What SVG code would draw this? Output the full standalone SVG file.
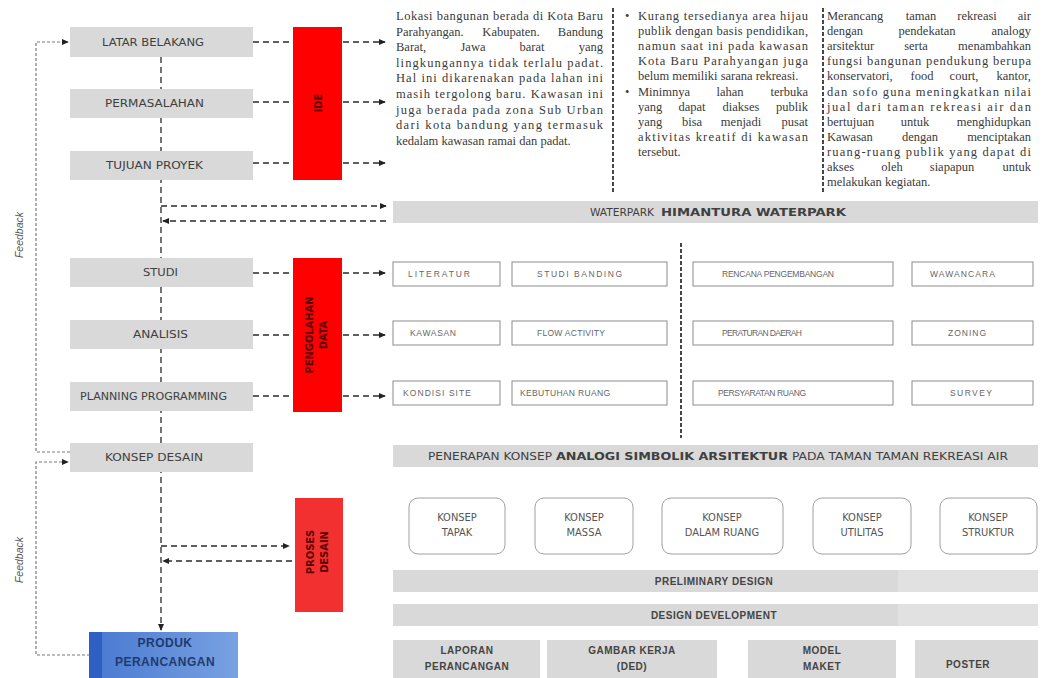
<svg xmlns="http://www.w3.org/2000/svg" width="1043" height="678" viewBox="0 0 1043 678">
<style>
.gbox{fill:#d9d9d9}
.red{fill:#ff0000}
.lbl{font-family:"Liberation Sans Narrow","DejaVu Sans Condensed","Liberation Sans",sans-serif;font-size:11px;fill:#404040}
.rtx{font-family:"Liberation Sans Narrow","DejaVu Sans Condensed","Liberation Sans",sans-serif;font-size:11px;font-weight:bold;fill:#5a0000}
.p{font-family:"Liberation Serif","Times New Roman",serif;font-size:12.5px;fill:#3a3a3a}
.wb{fill:#fff;stroke:#8c8c8c;stroke-width:1}
.sm{font-family:"Liberation Sans",Arial,sans-serif;font-size:8.5px;fill:#666}
.kb{fill:#fff;stroke:#a0a0a0;stroke-width:1}
.kt{font-family:"Liberation Sans Narrow","DejaVu Sans Condensed","Liberation Sans",sans-serif;font-size:11px;fill:#555;text-anchor:middle}
.bt{font-family:"Liberation Sans",Arial,sans-serif;font-size:10px;font-weight:bold;fill:#444;text-anchor:middle;letter-spacing:0.5px}
.dash{fill:none;stroke:#2a2a2a;stroke-width:1.3;stroke-dasharray:6 4}
.sep{fill:none;stroke:#1a1a1a;stroke-width:1.6;stroke-dasharray:4 2}
.fb{fill:none;stroke:#7a7a7a;stroke-width:1.2;stroke-dasharray:3 2}
.fbt{font-family:"Liberation Sans",Arial,sans-serif;font-size:10.5px;font-style:italic;fill:#555;text-anchor:middle}
</style>
<defs>
<marker id="ah" viewBox="0 0 8 8" refX="7" refY="4" markerWidth="7" markerHeight="7" orient="auto" markerUnits="userSpaceOnUse"><path d="M0,0.5 L8,4 L0,7.5 z" fill="#222"/></marker>
<linearGradient id="blue" x1="0" y1="0" x2="1" y2="0"><stop offset="0" stop-color="#4878d0"/><stop offset="1" stop-color="#79a2e2"/></linearGradient>
</defs>
<rect width="1043" height="678" fill="#ffffff"/>

<g id="connectors">
<line class="dash" x1="161" y1="57" x2="161" y2="630" marker-end="url(#ah)"/>
<line class="dash" x1="253" y1="42" x2="385" y2="42" marker-end="url(#ah)"/>
<line class="dash" x1="253" y1="102" x2="385" y2="102" marker-end="url(#ah)"/>
<line class="dash" x1="253" y1="163" x2="385" y2="163" marker-end="url(#ah)"/>
<line class="dash" x1="253" y1="273" x2="385" y2="273" marker-end="url(#ah)"/>
<line class="dash" x1="253" y1="335" x2="385" y2="335" marker-end="url(#ah)"/>
<line class="dash" x1="253" y1="396" x2="385" y2="396" marker-end="url(#ah)"/>
<line class="dash" x1="161" y1="206" x2="386" y2="206" marker-end="url(#ah)"/>
<line class="dash" x1="386" y1="221" x2="163" y2="221" marker-end="url(#ah)"/>
<line class="dash" x1="161" y1="546" x2="289" y2="546" marker-end="url(#ah)"/>
<line class="dash" x1="292" y1="561" x2="163" y2="561" marker-end="url(#ah)"/>
<path class="fb" d="M70,452 H36 V42 H68" marker-end="url(#ah)"/>
<path class="fb" d="M90,655 H36 V462 H68" marker-end="url(#ah)"/>
<line class="sep" x1="613" y1="8" x2="613" y2="193"/>
<line class="sep" x1="823" y1="8" x2="823" y2="193"/>
<line class="sep" x1="681" y1="243" x2="681" y2="438"/>
</g>

<text class="fbt" transform="translate(23,235) rotate(-90)">Feedback</text>
<text class="fbt" transform="translate(23,560) rotate(-90)">Feedback</text>

<g id="latar-belakang"><rect class="gbox" x="70" y="27" width="183" height="30"/><text class="lbl" x="102" y="46" textLength="102" lengthAdjust="spacingAndGlyphs">LATAR BELAKANG</text></g>
<g id="permasalahan"><rect class="gbox" x="70" y="89" width="183" height="29"/><text class="lbl" x="105" y="107" textLength="99" lengthAdjust="spacingAndGlyphs">PERMASALAHAN</text></g>
<g id="tujuan-proyek"><rect class="gbox" x="70" y="151" width="183" height="29"/><text class="lbl" x="106" y="169" textLength="97" lengthAdjust="spacingAndGlyphs">TUJUAN PROYEK</text></g>
<g id="studi"><rect class="gbox" x="70" y="258" width="183" height="29"/><text class="lbl" x="143" y="276" textLength="35" lengthAdjust="spacingAndGlyphs">STUDI</text></g>
<g id="analisis"><rect class="gbox" x="70" y="320" width="183" height="29"/><text class="lbl" x="133" y="338" textLength="55" lengthAdjust="spacingAndGlyphs">ANALISIS</text></g>
<g id="planning"><rect class="gbox" x="70" y="382" width="183" height="29"/><text class="lbl" x="80" y="400" textLength="147" lengthAdjust="spacingAndGlyphs">PLANNING PROGRAMMING</text></g>
<g id="konsep-desain"><rect class="gbox" x="70" y="443" width="183" height="29"/><text class="lbl" x="105" y="461" textLength="98" lengthAdjust="spacingAndGlyphs">KONSEP DESAIN</text></g>

<g id="produk"><rect x="89" y="632" width="149" height="46" fill="url(#blue)"/><rect x="89" y="632" width="13" height="46" fill="#2f5fc2"/>
<text x="165" y="647" font-family="Liberation Sans,Arial,sans-serif" font-size="12" font-weight="bold" fill="#1f3a6e" text-anchor="middle" letter-spacing="0.5">PRODUK</text>
<text x="165" y="666" font-family="Liberation Sans,Arial,sans-serif" font-size="12" font-weight="bold" fill="#1f3a6e" text-anchor="middle" letter-spacing="0.5">PERANCANGAN</text></g>

<g id="ide"><rect class="red" x="293" y="27" width="49" height="153"/><text class="rtx" text-anchor="middle" transform="translate(322,103) rotate(-90)">IDE</text></g>
<g id="pengolahan-data"><rect class="red" x="293" y="258" width="49" height="154"/><text class="rtx" text-anchor="middle" transform="translate(318,335) rotate(-90)"><tspan x="0" y="-5">PENGOLAHAN</tspan><tspan x="0" y="9">DATA</tspan></text></g>
<g id="proses-desain"><rect x="295" y="498" width="48" height="114" fill="#f23030"/><text class="rtx" text-anchor="middle" transform="translate(319,552) rotate(-90)"><tspan x="0" y="-5">PROSES</tspan><tspan x="0" y="9">DESAIN</tspan></text></g>

<g id="text-latar">
<text class="p" x="396" y="20" textLength="207" lengthAdjust="spacing">Lokasi bangunan berada di Kota Baru</text>
<text class="p" x="396" y="35.6">Parahyangan.</text><text class="p" x="511" y="35.6" text-anchor="middle">Kabupaten.</text><text class="p" x="603" y="35.6" text-anchor="end">Bandung</text>
<text class="p" x="396" y="51.2">Barat,</text><text class="p" x="473" y="51.2" text-anchor="middle">Jawa</text><text class="p" x="532" y="51.2" text-anchor="middle">barat</text><text class="p" x="603" y="51.2" text-anchor="end">yang</text>
<text class="p" x="396" y="66.8" textLength="207" lengthAdjust="spacing">lingkungannya tidak terlalu padat.</text>
<text class="p" x="396" y="82.4" textLength="207" lengthAdjust="spacing">Hal ini dikarenakan pada lahan ini</text>
<text class="p" x="396" y="98" textLength="207" lengthAdjust="spacing">masih tergolong baru. Kawasan ini</text>
<text class="p" x="396" y="113.6" textLength="207" lengthAdjust="spacing">juga berada pada zona Sub Urban</text>
<text class="p" x="396" y="129.2" textLength="207" lengthAdjust="spacing">dari kota bandung yang termasuk</text>
<text class="p" x="396" y="144.8">kedalam kawasan ramai dan padat.</text>
</g>

<g id="text-permasalahan">
<text class="p" x="625" y="20">•</text>
<text class="p" x="638" y="20" textLength="170" lengthAdjust="spacing">Kurang tersedianya area hijau</text>
<text class="p" x="638" y="35.1" textLength="170" lengthAdjust="spacing">publik dengan basis pendidikan,</text>
<text class="p" x="638" y="50.2" textLength="170" lengthAdjust="spacing">namun saat ini pada kawasan</text>
<text class="p" x="638" y="65.3" textLength="170" lengthAdjust="spacing">Kota Baru Parahyangan juga</text>
<text class="p" x="638" y="80.4">belum memiliki sarana rekreasi.</text>
<text class="p" x="625" y="95.5">•</text>
<text class="p" x="638" y="95.5">Minimnya</text><text class="p" x="730" y="95.5" text-anchor="middle">lahan</text><text class="p" x="808" y="95.5" text-anchor="end">terbuka</text>
<text class="p" x="638" y="110.6">yang</text><text class="p" x="692" y="110.6" text-anchor="middle">dapat</text><text class="p" x="741" y="110.6" text-anchor="middle">diakses</text><text class="p" x="808" y="110.6" text-anchor="end">publik</text>
<text class="p" x="638" y="125.7">yang</text><text class="p" x="692" y="125.7" text-anchor="middle">bisa</text><text class="p" x="741" y="125.7" text-anchor="middle">menjadi</text><text class="p" x="808" y="125.7" text-anchor="end">pusat</text>
<text class="p" x="638" y="140.8" textLength="170" lengthAdjust="spacing">aktivitas kreatif di kawasan</text>
<text class="p" x="638" y="155.9">tersebut.</text>
</g>

<g id="text-tujuan">
<text class="p" x="827" y="20">Merancang</text><text class="p" x="921" y="20" text-anchor="middle">taman</text><text class="p" x="977" y="20" text-anchor="middle">rekreasi</text><text class="p" x="1031" y="20" text-anchor="end">air</text>
<text class="p" x="827" y="35.1">dengan</text><text class="p" x="927" y="35.1" text-anchor="middle">pendekatan</text><text class="p" x="1031" y="35.1" text-anchor="end">analogy</text>
<text class="p" x="827" y="50.2">arsitektur</text><text class="p" x="916" y="50.2" text-anchor="middle">serta</text><text class="p" x="1031" y="50.2" text-anchor="end">menambahkan</text>
<text class="p" x="827" y="65.3" textLength="204" lengthAdjust="spacing">fungsi bangunan pendukung berupa</text>
<text class="p" x="827" y="80.4">konservatori,</text><text class="p" x="922" y="80.4" text-anchor="middle">food</text><text class="p" x="964" y="80.4" text-anchor="middle">court,</text><text class="p" x="1031" y="80.4" text-anchor="end">kantor,</text>
<text class="p" x="827" y="95.5" textLength="204" lengthAdjust="spacing">dan sofo guna meningkatkan nilai</text>
<text class="p" x="827" y="110.6" textLength="204" lengthAdjust="spacing">jual dari taman rekreasi air dan</text>
<text class="p" x="827" y="125.7">bertujuan</text><text class="p" x="915" y="125.7" text-anchor="middle">untuk</text><text class="p" x="1031" y="125.7" text-anchor="end">menghidupkan</text>
<text class="p" x="827" y="140.8">Kawasan</text><text class="p" x="920" y="140.8" text-anchor="middle">dengan</text><text class="p" x="1031" y="140.8" text-anchor="end">menciptakan</text>
<text class="p" x="827" y="155.9" textLength="204" lengthAdjust="spacing">ruang-ruang publik yang dapat di</text>
<text class="p" x="827" y="171">akses</text><text class="p" x="892" y="171" text-anchor="middle">oleh</text><text class="p" x="952" y="171" text-anchor="middle">siapapun</text><text class="p" x="1031" y="171" text-anchor="end">untuk</text>
<text class="p" x="827" y="186.1">melakukan kegiatan.</text>
</g>

<g id="waterpark"><rect class="gbox" x="393" y="201" width="645" height="22"/>
<text class="lbl" x="590" y="216" textLength="64" lengthAdjust="spacingAndGlyphs">WATERPARK</text>
<text class="lbl" x="661" y="216" textLength="185" lengthAdjust="spacingAndGlyphs" font-weight="bold" fill="#1a1a1a">HIMANTURA WATERPARK</text></g>

<g id="literatur"><rect class="wb" x="393" y="262" width="107" height="24"/><text class="sm" x="408" y="277" textLength="62">LITERATUR</text></g>
<g id="studi-banding"><rect class="wb" x="512" y="262" width="155" height="24"/><text class="sm" x="537" y="277" textLength="85">STUDI BANDING</text></g>
<g id="rencana"><rect class="wb" x="693" y="262" width="200" height="24"/><text class="sm" x="722" y="277" textLength="112">RENCANA PENGEMBANGAN</text></g>
<g id="wawancara"><rect class="wb" x="912" y="262" width="121" height="24"/><text class="sm" x="930" y="277" textLength="65">WAWANCARA</text></g>
<g id="kawasan"><rect class="wb" x="393" y="321" width="107" height="24"/><text class="sm" x="410" y="336" textLength="46">KAWASAN</text></g>
<g id="flow-activity"><rect class="wb" x="512" y="321" width="155" height="24"/><text class="sm" x="537" y="336" textLength="68">FLOW ACTIVITY</text></g>
<g id="peraturan"><rect class="wb" x="693" y="321" width="200" height="24"/><text class="sm" x="722" y="336" textLength="80">PERATURAN DAERAH</text></g>
<g id="zoning"><rect class="wb" x="912" y="321" width="121" height="24"/><text class="sm" x="948" y="336" textLength="38">ZONING</text></g>
<g id="kondisi-site"><rect class="wb" x="393" y="381" width="107" height="24"/><text class="sm" x="403" y="396" textLength="68">KONDISI SITE</text></g>
<g id="kebutuhan-ruang"><rect class="wb" x="512" y="381" width="155" height="24"/><text class="sm" x="520" y="396" textLength="90">KEBUTUHAN RUANG</text></g>
<g id="persyaratan"><rect class="wb" x="693" y="381" width="200" height="24"/><text class="sm" x="718" y="396" textLength="88">PERSYARATAN RUANG</text></g>
<g id="survey"><rect class="wb" x="912" y="381" width="121" height="24"/><text class="sm" x="950" y="396" textLength="42">SURVEY</text></g>

<g id="penerapan"><rect class="gbox" x="393" y="445" width="645" height="22"/>
<text class="lbl" x="428" y="460" textLength="124" lengthAdjust="spacingAndGlyphs">PENERAPAN KONSEP</text>
<text class="lbl" x="556" y="460" textLength="232" lengthAdjust="spacingAndGlyphs" font-weight="bold" fill="#1a1a1a">ANALOGI SIMBOLIK ARSITEKTUR</text>
<text class="lbl" x="792" y="460" textLength="216" lengthAdjust="spacingAndGlyphs">PADA TAMAN TAMAN REKREASI AIR</text></g>

<g id="konsep-tapak"><rect class="kb" x="409" y="498" width="96" height="56" rx="9"/><text class="kt" x="457" y="521">KONSEP</text><text class="kt" x="457" y="536">TAPAK</text></g>
<g id="konsep-massa"><rect class="kb" x="535" y="498" width="98" height="56" rx="9"/><text class="kt" x="584" y="521">KONSEP</text><text class="kt" x="584" y="536">MASSA</text></g>
<g id="konsep-dalam-ruang"><rect class="kb" x="662" y="498" width="121" height="56" rx="9"/><text class="kt" x="722" y="521">KONSEP</text><text class="kt" x="722" y="536">DALAM RUANG</text></g>
<g id="konsep-utilitas"><rect class="kb" x="813" y="498" width="98" height="56" rx="9"/><text class="kt" x="862" y="521">KONSEP</text><text class="kt" x="862" y="536">UTILITAS</text></g>
<g id="konsep-struktur"><rect class="kb" x="940" y="498" width="97" height="56" rx="9"/><text class="kt" x="988" y="521" fill="#333">KONSEP</text><text class="kt" x="988" y="536" fill="#333">STRUKTUR</text></g>

<g id="preliminary"><rect class="gbox" x="393" y="570" width="645" height="22"/><rect x="898" y="570" width="140" height="22" fill="#e1e1e1"/>
<text class="bt" x="714" y="585" font-size="9">PRELIMINARY DESIGN</text></g>
<g id="design-development"><rect class="gbox" x="393" y="604" width="645" height="22"/><rect x="898" y="604" width="140" height="22" fill="#e1e1e1"/>
<text class="bt" x="714" y="619" font-size="9">DESIGN DEVELOPMENT</text></g>

<g id="laporan"><rect class="gbox" x="393" y="640" width="147" height="38"/><text class="bt" x="467" y="654">LAPORAN</text><text class="bt" x="467" y="670">PERANCANGAN</text></g>
<g id="gambar-kerja"><rect class="gbox" x="547" y="640" width="170" height="38"/><text class="bt" x="632" y="654">GAMBAR KERJA</text><text class="bt" x="632" y="670">(DED)</text></g>
<g id="model-maket"><rect class="gbox" x="748" y="640" width="148" height="38"/><text class="bt" x="822" y="654">MODEL</text><text class="bt" x="822" y="670">MAKET</text></g>
<g id="poster"><rect class="gbox" x="915" y="640" width="123" height="38"/><text class="bt" x="968" y="668">POSTER</text></g>
</svg>
